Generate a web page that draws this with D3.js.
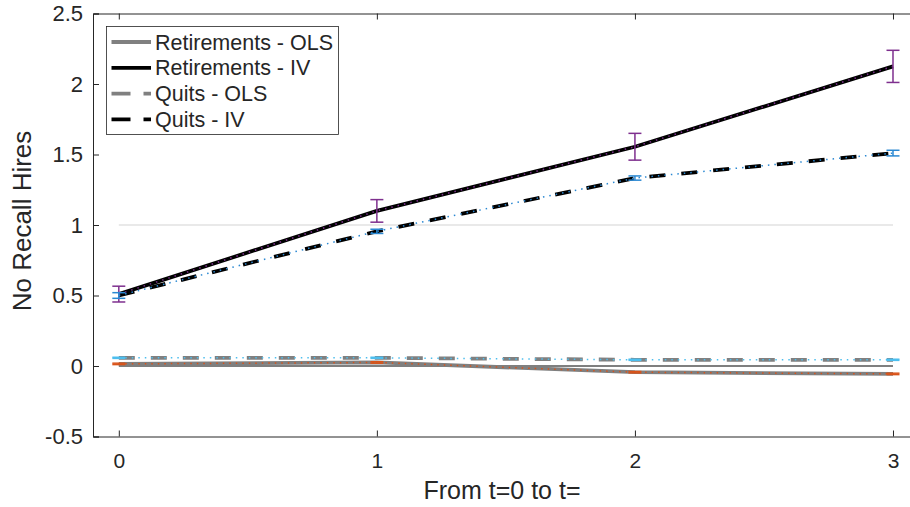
<!DOCTYPE html>
<html>
<head>
<meta charset="utf-8">
<script src="https://cdn.jsdelivr.net/npm/d3@7"></script>
<style>
  body { margin: 0; background: #fff; }
  text { font-family: "Liberation Sans", Arial, sans-serif; fill: #262626; }
</style>
</head>
<body>
<svg></svg>
<script>
const width = 910;
const height = 507;

const periods = [0, 1, 2, 3];
const xTickLabels = ["0", "1", "2", "3"];
const yTicks = [-0.5, 0, 0.5, 1, 1.5, 2, 2.5];
const yTickLabels = ["-0.5", "0", "0.5", "1", "1.5", "2", "2.5"];

const retOLS = [0.015, 0.025, -0.044, -0.056];
const retOLSErr = [0.005, 0.005, 0.005, 0.005];
const retIV = [0.51, 1.10, 1.555, 2.125];
const retIVErr = [0.056, 0.08, 0.095, 0.114];
const quitOLS = [0.058, 0.058, 0.044, 0.044];
const quitOLSErr = [0.004, 0.004, 0.004, 0.004];
const quitIV = [0.50, 0.955, 1.333, 1.51];
const quitIVErr = [0.02, 0.015, 0.015, 0.02];

const seriesNames = ["Retirements - OLS", "Retirements - IV", "Quits - OLS", "Quits - IV"];

const svg = d3.select('svg')
    .attr('width', width)
    .attr('height', height);

const x = d3.scaleLinear().domain([-0.1, 3.1]).range([93, 918.8]);
const y = d3.scaleLinear().domain([-0.5, 2.5]).range([436.5, 13.5]);

// axes box
svg.append('g')
    .attr('transform', 'translate(0,' + y(-0.5) + ')')
    .call(d3.axisBottom(x).tickValues(periods).tickSize(-6).tickPadding(17)
        .tickFormat((d, i) => xTickLabels[i]))
    .call(g => g.select('.domain').attr('stroke', '#262626'))
    .call(g => g.selectAll('.tick line').attr('stroke', '#262626'))
    .call(g => g.selectAll('text').style('font-size', '21px').attr('fill', '#262626'));

svg.append('g')
    .attr('transform', 'translate(0,' + y(2.5) + ')')
    .call(d3.axisTop(x).tickValues(periods).tickSize(-6).tickFormat(''))
    .call(g => g.select('.domain').attr('stroke', '#262626'))
    .call(g => g.selectAll('.tick line').attr('stroke', '#262626'));

svg.append('g')
    .attr('transform', 'translate(' + x(-0.1) + ',0)')
    .call(d3.axisLeft(y).tickValues(yTicks).tickSize(-6).tickPadding(10)
        .tickFormat((d, i) => yTickLabels[i]))
    .call(g => g.select('.domain').attr('stroke', '#262626'))
    .call(g => g.selectAll('.tick line').attr('stroke', '#262626'))
    .call(g => g.selectAll('text').style('font-size', '22px').attr('fill', '#262626'));

// axis labels
svg.append('text')
    .attr('x', 502).attr('y', 499)
    .attr('text-anchor', 'middle')
    .style('font-size', '25px')
    .text('From t=0 to t=');

svg.append('text')
    .attr('transform', 'translate(31,221) rotate(-90)')
    .attr('text-anchor', 'middle')
    .style('font-size', '26px')
    .text('No Recall Hires');

// reference lines at 1 and 0
svg.append('line')
    .attr('x1', x(0)).attr('x2', x(3))
    .attr('y1', y(1)).attr('y2', y(1))
    .attr('stroke', '#e2e2e2').attr('stroke-width', 1.5);

svg.append('line')
    .attr('x1', x(0)).attr('x2', x(3))
    .attr('y1', y(0)).attr('y2', y(0))
    .attr('stroke', '#000').attr('stroke-width', 1.2);

const line = d3.line()
    .x((d, i) => x(periods[i]))
    .y(d => y(d));

const mainLines = [
    { vals: retOLS, color: '#808080', dash: null },
    { vals: retIV, color: '#000000', dash: null },
    { vals: quitOLS, color: '#808080', dash: '16,16' },
    { vals: quitIV, color: '#000000', dash: '16,16' }
];

mainLines.forEach(s => {
    svg.append('path')
        .attr('d', line(s.vals))
        .attr('fill', 'none')
        .attr('stroke', s.color)
        .attr('stroke-width', 3.8)
        .attr('stroke-dasharray', s.dash);
});

// error bars drawn on top with dotted connectors
const errSeries = [
    { vals: retOLS, err: retOLSErr, color: '#D95319' },
    { vals: retIV, err: retIVErr, color: '#7E2F8E' },
    { vals: quitOLS, err: quitOLSErr, color: '#4DBEEE' },
    { vals: quitIV, err: quitIVErr, color: '#2a88d2' }
];

errSeries.forEach(s => {
    svg.append('path')
        .attr('d', line(s.vals))
        .attr('fill', 'none')
        .attr('stroke', s.color)
        .attr('stroke-width', 1.5)
        .attr('stroke-dasharray', '1.5,5');

    const g = svg.append('g')
        .attr('stroke', s.color)
        .attr('stroke-width', 1.5);

    g.selectAll('line.v')
        .data(s.vals)
        .enter().append('line')
        .attr('class', 'v')
        .attr('x1', (d, i) => x(periods[i]))
        .attr('x2', (d, i) => x(periods[i]))
        .attr('y1', (d, i) => y(d - s.err[i]))
        .attr('y2', (d, i) => y(d + s.err[i]));

    [-1, 1].forEach(sign => {
        g.selectAll('line.cap' + (sign > 0 ? 'p' : 'm'))
            .data(s.vals)
            .enter().append('line')
            .attr('x1', (d, i) => x(periods[i]) - 6.5)
            .attr('x2', (d, i) => x(periods[i]) + 6.5)
            .attr('y1', (d, i) => y(d + sign * s.err[i]))
            .attr('y2', (d, i) => y(d + sign * s.err[i]));
    });
});

// legend
const legend = svg.append('g');
legend.append('rect')
    .attr('x', 106.5).attr('y', 26.5)
    .attr('width', 232).attr('height', 108)
    .attr('fill', '#fff')
    .attr('stroke', '#262626')
    .attr('stroke-width', 0.8);

const legendRows = legend.selectAll('g.row')
    .data(seriesNames)
    .enter().append('g')
    .attr('transform', (d, i) => 'translate(0,' + (42 + i * 25.8) + ')');

legendRows.append('line')
    .attr('x1', 111.5).attr('x2', 151)
    .attr('y1', 0).attr('y2', 0)
    .attr('stroke', (d, i) => mainLines[i].color)
    .attr('stroke-width', 3.8)
    .attr('stroke-dasharray', (d, i) => mainLines[i].dash ? '19,13' : null);

legendRows.append('text')
    .attr('x', 155)
    .attr('y', 7.5)
    .style('font-size', '21.5px')
    .text(d => d);
</script>
</body>
</html>
